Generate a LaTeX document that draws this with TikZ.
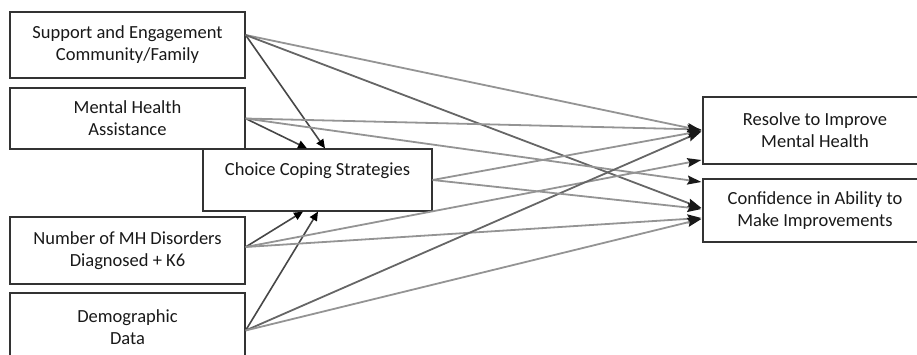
\documentclass[tikz,border=0pt]{standalone}
\usepackage{fontspec}
\setmainfont{Carlito}
\usetikzlibrary{arrows.meta}
\begin{document}
\begin{tikzpicture}[x=1pt,y=-1pt,
  box/.style={draw=black!80, line width=1.2pt, fill=white, align=center, inner sep=0pt,
    font=\fontsize{18.5}{22}\selectfont, text=black!90},
  inlink/.style={draw=black!72, line width=1.6pt, -{Triangle[length=9pt,width=8pt,color=black]}},
  outlink/.style={draw=black!42, line width=1.8pt, -{Stealth[length=14pt,width=9pt,inset=2pt,color=black!90]}},
  darklink/.style={outlink, draw=black!60}]
\useasboundingbox (0,0) rectangle (917,354);
\node[box, minimum width=235pt, minimum height=66pt] (S) at (127.5,45) {Support and Engagement\\Community/Family};
\node[box, minimum width=235pt, minimum height=61pt] (M) at (127.5,118.5) {Mental Health\\Assistance};
\node[box, minimum width=235pt, minimum height=67pt] (N) at (127.5,250.5) {Number of MH Disorders\\Diagnosed + K6};
\node[box, minimum width=235pt, minimum height=68pt] (D) at (127.5,327) {Demographic\\Data};
\node[box, minimum width=229pt, minimum height=62pt] (C) at (317.5,180) {Choice Coping Strategies\\\mbox{}};
\node[box, minimum width=224pt, minimum height=67pt] (R) at (815,130.5) {Resolve to Improve\\Mental Health};
\node[box, minimum width=224pt, minimum height=63pt] (F) at (815,210.5) {Confidence in Ability to\\Make Improvements};
% into Choice
\draw[inlink] ([yshift=10pt]S.east) -- ([xshift=7.5pt]C.north);
\draw[inlink] (M.east) -- ([xshift=-10.5pt]C.north);
\draw[inlink] ([yshift=3.5pt]N.east) -- ([xshift=-14.5pt]C.south);
\draw[inlink] ([yshift=-3.5pt]D.east) -- ([xshift=0.5pt]C.south);
% outcomes
\draw[outlink] ([yshift=10pt]S.east) -- ([xshift=-1pt]R.west);
\draw[darklink] ([yshift=10pt]S.east) -- ([xshift=-1pt,yshift=2.5pt]F.west);
\draw[outlink] (M.east) -- ([xshift=-1pt,yshift=1pt]R.west);
\draw[outlink] (M.east) -- ([xshift=-1pt,yshift=28.5pt]F.west);
\draw[outlink] ([yshift=3.5pt]N.east) -- ([xshift=-1pt,yshift=-29.5pt]R.west);
\draw[outlink] ([yshift=3.5pt]N.east) -- ([xshift=-1pt,yshift=-7.5pt]F.west);
\draw[darklink] ([yshift=-3.5pt]D.east) -- ([xshift=-1pt,yshift=-1pt]R.west);
\draw[outlink] ([yshift=-3.5pt]D.east) -- ([xshift=-1pt,yshift=-8.5pt]F.west);
\draw[outlink] (C.east) -- ([xshift=-1pt,yshift=-0.5pt]R.west);
\draw[outlink] (C.east) -- ([xshift=-1pt,yshift=1.5pt]F.west);
\end{tikzpicture}
\end{document}
